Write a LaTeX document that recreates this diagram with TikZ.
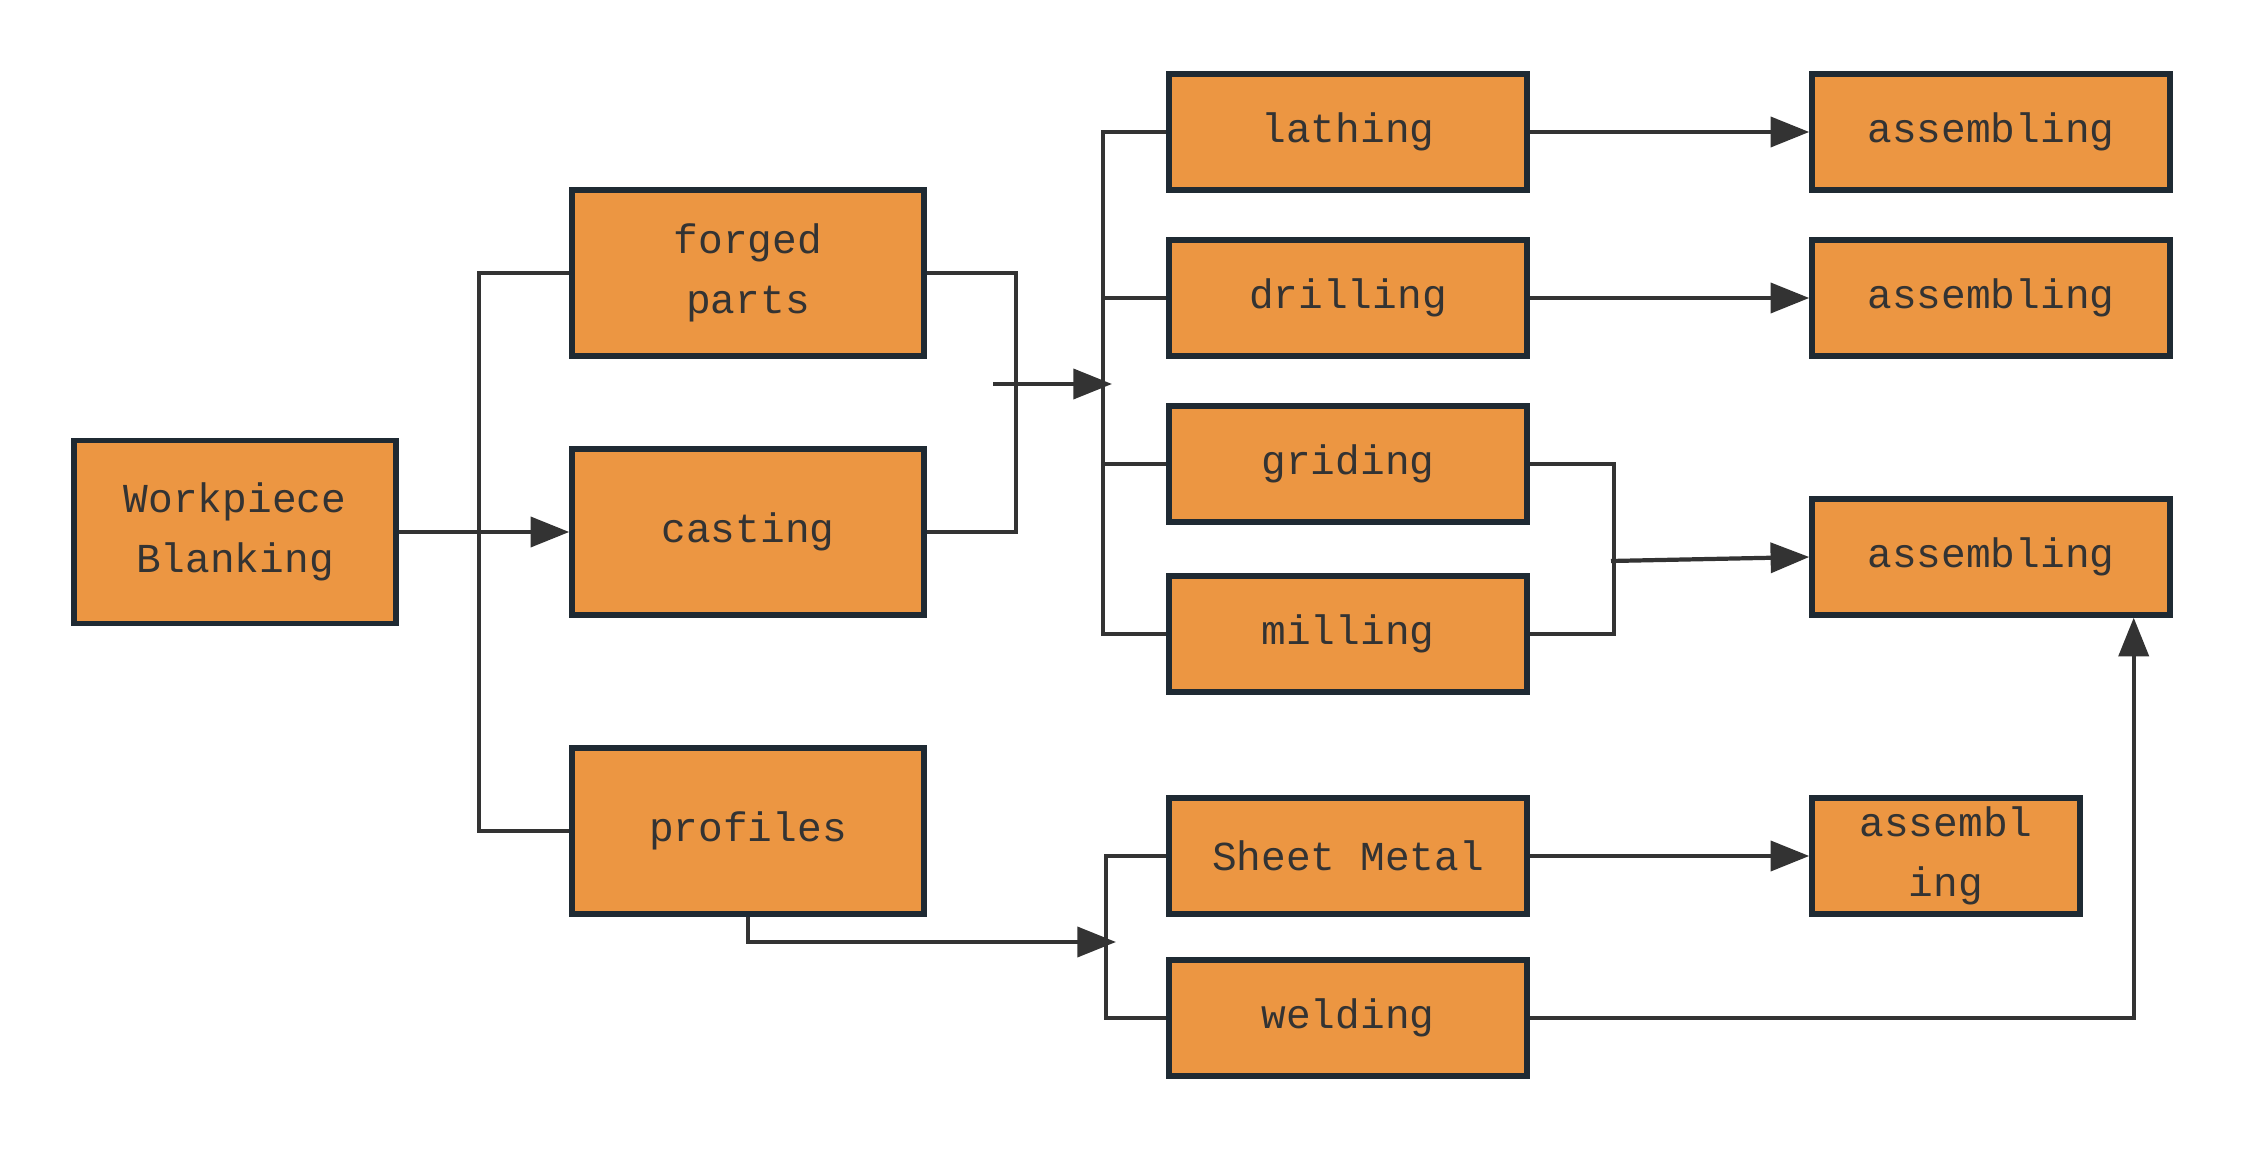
\documentclass[tikz,border=0pt]{standalone}
\usepackage{fontspec}
\newfontfamily\boxfont{Liberation Mono}
\usetikzlibrary{arrows.meta}
\definecolor{boxfill}{HTML}{EC9642}
\definecolor{boxline}{HTML}{1F2A33}
\definecolor{linecol}{HTML}{333333}
\tikzset{
	box/.style={draw=boxline, fill=boxfill, line width=1.5pt, text=linecol, align=center, inner sep=0pt,
		font=\boxfont\fontsize{11.7}{17}\selectfont},
	conn/.style={draw=linecol, line width=1.2pt},
	>={Triangle[length=11pt,width=8.5pt]}
}
\begin{document}
\begin{tikzpicture}[x=0.01cm,y=-0.01cm]
	\useasboundingbox (0,0) rectangle (2244,1152);
	\node[box, minimum width=3.22cm, minimum height=1.83cm] (wb) at (235,532) {Workpiece\\Blanking};
	\foreach \j/\y/\n in {forged\\parts/273/forged, casting/532/cast, profiles/831/prof}
			{\node[box, minimum width=3.52cm, minimum height=1.66cm] (\n) at (748,\y) {\j};}
	\foreach \j/\y [count=\xi] in {lathing/132, drilling/298, griding/464, milling/634, Sheet Metal/856, welding/1018}
			{\node[box, minimum width=3.58cm, minimum height=1.16cm] (m\xi) at (1348,\y) {\j};}
	\foreach \j/\y [count=\xi] in {assembling/132, assembling/298, assembling/557}
			{\node[box, minimum width=3.58cm, minimum height=1.16cm] (a\xi) at (1991,\y) {\j};}
	\node[box, minimum width=2.68cm, minimum height=1.16cm] (a4) at (1946,856) {assembl\\ing};

	\draw[conn] (forged.west) -- ++(-90,0) |- (prof.west);
	\draw[conn,->] (wb.east) -- (cast.west);
	\draw[conn] (forged.east) -- ++(89,0) |- (cast.east);
	\coordinate (j1) at (993,384);
	\coordinate (j2) at (1112,384);
	\draw[conn,->] (j1) -- (j2);
	\draw[conn] (m1.west) -- ++(-63,0) |- (m4.west);
	\foreach \i in {2,3}
			{\draw[conn] (m\i.west) -- ++(-63,0);}
	\coordinate (j3) at (1116,942);
	\draw[conn,->] (prof.south) |- (j3);
	\draw[conn] (m5.west) -- ++(-60,0) |- (m6.west);
	\foreach \i/\k in {1/1, 2/2, 5/4}
			{\draw[conn,->] (m\i.east) -- (a\k.west);}
	\draw[conn] (m3.east) -- ++(84,0) |- (m4.east);
	\coordinate (j4) at (1611,561);
	\draw[conn,->] (j4) -- (a3.west);
	\draw[conn,->] (m6.east) -| ([xshift=-0.39cm]a3.south east);
\end{tikzpicture}
\end{document}
